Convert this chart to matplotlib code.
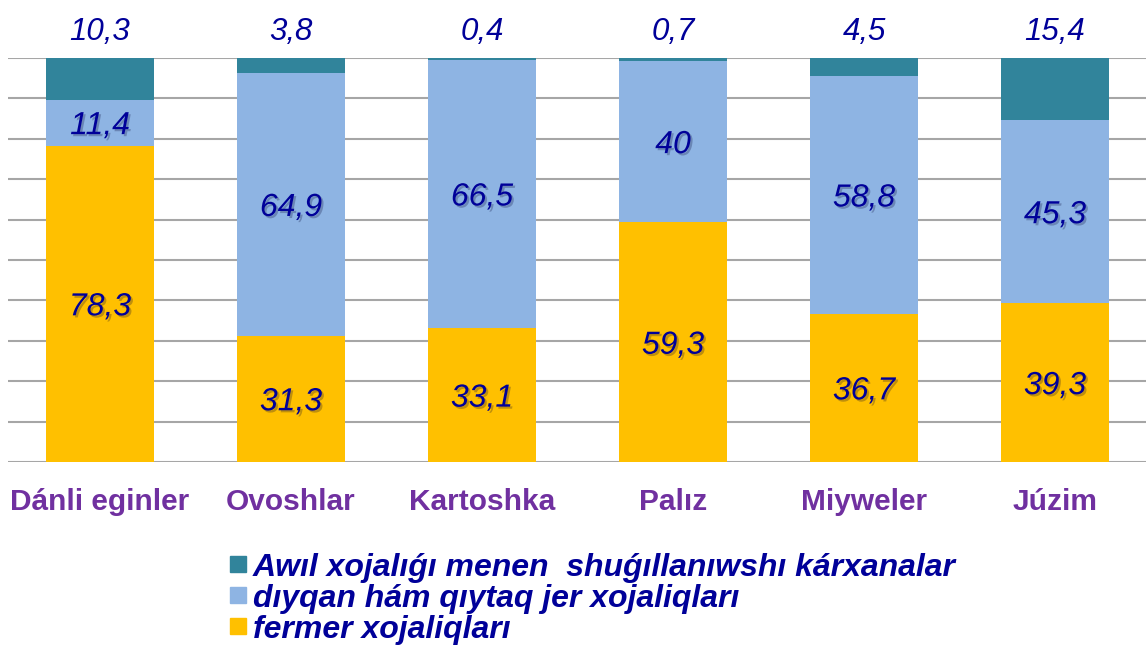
import matplotlib.pyplot as plt
import matplotlib.patheffects as pe
from matplotlib.patches import Rectangle

categories = ["Dánli eginler", "Ovoshlar", "Kartoshka", "Palız", "Miyweler", "Júzim"]
fermer = [78.3, 31.3, 33.1, 59.3, 36.7, 39.3]
diyqan = [11.4, 64.9, 66.5, 40.0, 58.8, 45.3]
awil = [10.3, 3.8, 0.4, 0.7, 4.5, 15.4]

series_names = [
    "Awıl xojalıǵı menen  shuǵıllanıwshı kárxanalar",
    "dıyqan hám qıytaq jer xojaliqları",
    "fermer xojaliqları",
]

C_AWIL = "#31849B"
C_DIYQAN = "#8EB4E3"
C_FERMER = "#FFC000"
TXT = "#000099"
PURPLE = "#7030A0"

plt.rcParams['font.family'] = ['Liberation Sans', 'DejaVu Sans']

W, H = 1146, 647
fig = plt.figure(figsize=(W / 100, H / 100), dpi=100)
ax = fig.add_axes([8 / W, (H - 462) / H, (W - 8) / W, 404 / H])

x = list(range(len(categories)))
bw = 0.57

# gridlines every 10%
for y in range(0, 101, 10):
    ax.axhline(y, color="#A6A6A6", lw=1.5, zorder=0)

bottom2 = fermer
bottom3 = [f + d for f, d in zip(fermer, diyqan)]
ax.bar(x, fermer, bw, color=C_FERMER, zorder=2)
ax.bar(x, diyqan, bw, bottom=bottom2, color=C_DIYQAN, zorder=2)
ax.bar(x, awil, bw, bottom=bottom3, color=C_AWIL, zorder=2)

shadow = [pe.withSimplePatchShadow(offset=(1.5, -1.5), alpha=0.25)]

def fmt(v):
    s = f"{v:.1f}"
    if s.endswith(".0"):
        s = s[:-2]
    return s.replace(".", ",")

for i in x:
    ax.text(i, fermer[i] / 2, fmt(fermer[i]), ha="center", va="center_baseline",
            fontsize=23, style="italic", color=TXT, zorder=3, path_effects=shadow)
    ax.text(i, fermer[i] + diyqan[i] / 2, fmt(diyqan[i]), ha="center",
            va="center_baseline", fontsize=23, style="italic", color=TXT,
            zorder=3, path_effects=shadow)
    ax.text(i, 107.2, fmt(awil[i]), ha="center", va="center_baseline",
            fontsize=22.5, style="italic", color=TXT, zorder=3, clip_on=False)

ax.set_xlim(-(100 - 8) / 191, (W - 100) / 191)
ax.set_ylim(0, 100)
for s in ax.spines.values():
    s.set_visible(False)
ax.set_yticks([])
ax.set_xticks(x)
ax.set_xticklabels(categories, fontsize=21.5, fontweight="bold", color=PURPLE)
ax.tick_params(axis="x", length=0, pad=19)

# legend, drawn by hand to keep the tight rows
colors = [C_AWIL, C_DIYQAN, C_FERMER]
baselines = [576, 607, 638]
for name, c, by in zip(series_names, colors, baselines):
    fig.patches.append(Rectangle((230 / W, (H - by + 4) / H), 16 / W, 16 / H,
                                 transform=fig.transFigure, color=c))
    fig.text(253 / W, (H - by) / H, name, ha="left", va="baseline",
             fontsize=23, fontweight="bold", style="italic", color=TXT)

fig.savefig("out.png", dpi=100)
